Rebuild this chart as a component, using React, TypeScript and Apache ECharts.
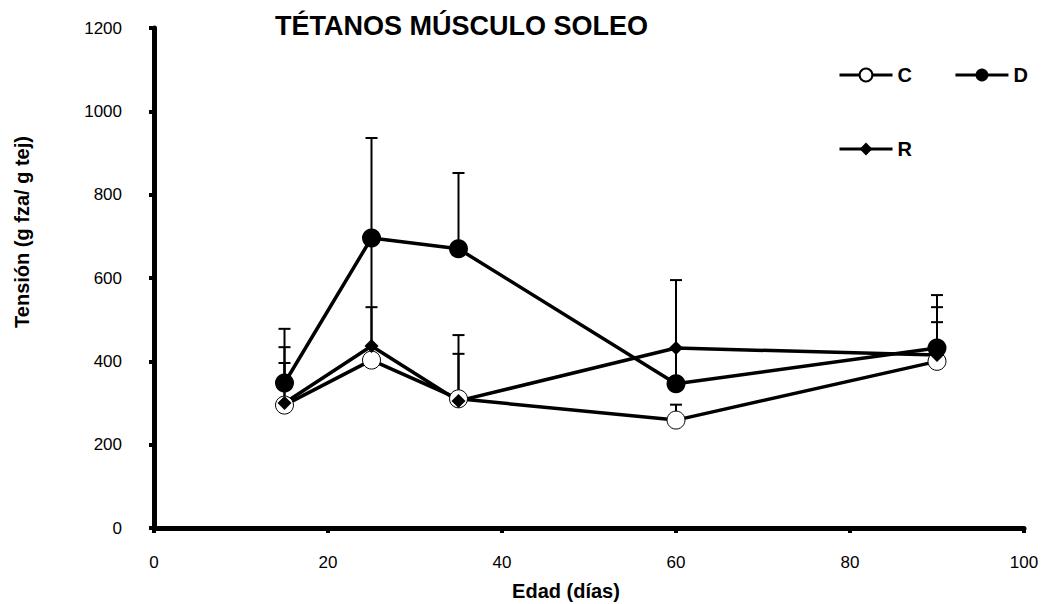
import React, { useEffect, useRef } from "react";
import * as echarts from "echarts";

const ages = [15, 25, 35, 60, 90];
const cValues = [295, 403, 310, 259, 400];
const dValues = [348, 696, 670, 346, 432];
const rValues = [300, 437, 305, 432, 415];
const cUpper = [396, 690, 463, 296, 494];
const dUpper = [478, 936, 852, 595, 559];
const rUpper = [434, 530, 418, 432, 530];
const xTicks = [0, 20, 40, 60, 80, 100];
const yTicks = [0, 200, 400, 600, 800, 1000, 1200];

const FONT = "Liberation Sans, Arial, sans-serif";

export default function App() {
  const ref = useRef<HTMLDivElement>(null);
  useEffect(() => {
    if (!ref.current) return;
    const chart = echarts.init(ref.current, undefined, { renderer: "svg" });
    const errData: number[][] = [];
    ages.forEach((a, i) => {
      errData.push([a, dValues[i], dUpper[i]]);
      errData.push([a, cValues[i], cUpper[i]]);
      errData.push([a, rValues[i], rUpper[i]]);
    });
    const lineSeries = (name: string, vals: number[], symbol: string, size: number, fill: string, border: number) => ({
      name,
      type: "line",
      data: ages.map((a, i) => [a, vals[i]]),
      symbol,
      symbolSize: size,
      showAllSymbol: true,
      lineStyle: { color: "#000", width: 3.5 },
      itemStyle: { color: fill, borderColor: "#000", borderWidth: border },
      z: 3,
    });
    const legendText = { fontFamily: FONT, fontSize: 20, fontWeight: "bold", color: "#000" };
    chart.setOption({
      animation: false,
      backgroundColor: "#fff",
      textStyle: { fontFamily: FONT },
      title: {
        text: "TÉTANOS MÚSCULO SOLEO",
        left: 270,
        top: 7,
        textStyle: { fontFamily: FONT, fontSize: 27, fontWeight: "bold", color: "#000" },
      },
      legend: [
        {
          data: ["C", "D"],
          left: 833,
          top: 60,
          width: 210,
          orient: "horizontal",
          itemWidth: 53,
          itemHeight: 16,
          itemGap: 42,
          lineStyle: { width: 3, color: "#000" },
          textStyle: legendText,
        },
        {
          data: ["R"],
          left: 833,
          top: 134,
          itemWidth: 53,
          itemHeight: 16,
          lineStyle: { width: 3, color: "#000" },
          textStyle: legendText,
        },
      ],
      grid: { left: 154, right: 23, top: 28, bottom: 76 },
      graphic: [
        {
          type: "text",
          x: 22,
          y: 232,
          rotation: Math.PI / 2,
          style: {
            text: "Tensión (g fza/ g tej)",
            fontFamily: FONT,
            fontSize: 20,
            fontWeight: "bold",
            fill: "#000",
            align: "center",
            verticalAlign: "middle",
          },
        },
        {
          type: "text",
          x: 566,
          y: 591,
          style: {
            text: "Edad (días)",
            fontFamily: FONT,
            fontSize: 20,
            fontWeight: "bold",
            fill: "#000",
            align: "center",
            verticalAlign: "middle",
          },
        },
      ],
      xAxis: {
        type: "value",
        min: xTicks[0],
        max: xTicks[xTicks.length - 1],
        interval: 20,
        axisLine: { lineStyle: { color: "#000", width: 5 } },
        axisTick: { inside: false, length: 5, lineStyle: { color: "#000", width: 4 } },
        axisLabel: { fontFamily: FONT, fontSize: 17, color: "#000", margin: 26 },
        splitLine: { show: false },
      },
      yAxis: {
        type: "value",
        min: yTicks[0],
        max: yTicks[yTicks.length - 1],
        interval: 200,
        axisLine: { show: true, lineStyle: { color: "#000", width: 5 } },
        axisTick: { show: true, inside: false, length: 5, lineStyle: { color: "#000", width: 4 } },
        axisLabel: { fontFamily: FONT, fontSize: 17, color: "#000", margin: 32, formatter: (v: number) => String(v) },
        splitLine: { show: false },
      },
      series: [
        {
          type: "custom",
          name: "err",
          data: errData,
          z: 2,
          renderItem: (params: any, api: any) => {
            const x = api.value(0);
            const p1 = api.coord([x, api.value(1)]);
            const p2 = api.coord([x, api.value(2)]);
            return {
              type: "group",
              children: [
                { type: "line", shape: { x1: p1[0], y1: p1[1], x2: p2[0], y2: p2[1] }, style: { stroke: "#000", lineWidth: 2 } },
                { type: "line", shape: { x1: p2[0] - 6, y1: p2[1], x2: p2[0] + 6, y2: p2[1] }, style: { stroke: "#000", lineWidth: 2 } },
              ],
            };
          },
        },
        lineSeries("C", cValues, "circle", 18, "#fff", 1),
        lineSeries("D", dValues, "circle", 19, "#000", 0),
        lineSeries("R", rValues, "diamond", 14, "#000", 0),
      ],
    });
    return () => chart.dispose();
  }, []);
  return (
    <div
      ref={ref}
      style={{ position: "fixed", left: 0, top: 0, width: 1047, height: 604 }}
    />
  );
}
